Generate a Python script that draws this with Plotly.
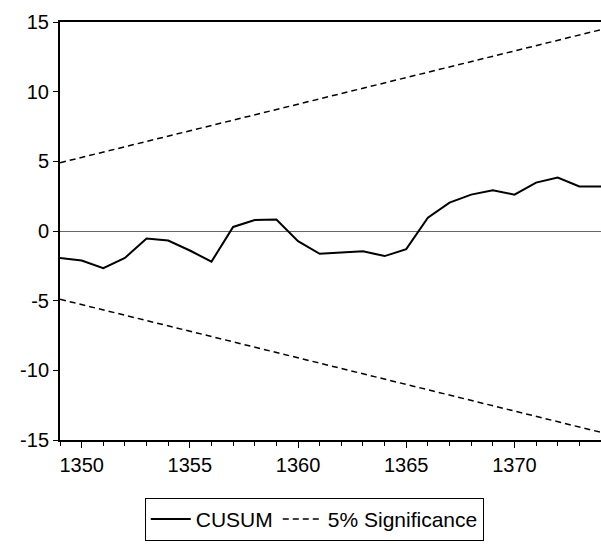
import plotly.graph_objects as go

years = list(range(1349, 1375))
cusum = [-1.93, -2.12, -2.67, -1.93, -0.54, -0.68, -1.4, -2.2, 0.29, 0.79,
         0.82, -0.73, -1.64, -1.56, -1.46, -1.8, -1.3, 0.96, 2.04, 2.61,
         2.92, 2.61, 3.47, 3.83, 3.2, 3.19]
bound_years = [1349, 1374]
upper_bound = [4.9, 14.45]
lower_bound = [-4.9, -14.45]

fig = go.Figure()
fig.add_trace(go.Scatter(x=years, y=cusum, mode="lines", name="CUSUM",
                         line=dict(color="black", width=2)))
fig.add_trace(go.Scatter(x=bound_years, y=upper_bound, mode="lines",
                         name="5% Significance",
                         line=dict(color="black", width=1.5, dash="6px,4px")))
fig.add_trace(go.Scatter(x=bound_years, y=lower_bound, mode="lines",
                         showlegend=False,
                         line=dict(color="black", width=1.5, dash="6px,4px")))

fig.update_layout(
    width=601, height=545,
    margin=dict(l=60, r=0, t=22, b=105),
    paper_bgcolor="white", plot_bgcolor="white",
    font=dict(family="Liberation Sans, Arial, sans-serif", size=20, color="black"),
    showlegend=True,
    legend=dict(orientation="h", x=0.47, xanchor="center", y=-0.19,
                yanchor="middle", bordercolor="black", borderwidth=1,
                bgcolor="white", font=dict(size=21), traceorder="normal",
                itemwidth=40),
)
fig.update_xaxes(range=[1349, 1374], tickvals=[1350, 1355, 1360, 1365, 1370],
                 ticks="outside", ticklen=6, tickwidth=1, tickcolor="black",
                 minor=dict(dtick=1, tick0=1349, ticks="outside", ticklen=4,
                            tickcolor="black", tickwidth=1),
                 showline=True, linecolor="black", linewidth=2, mirror=True,
                 showgrid=False, zeroline=False)
fig.update_yaxes(range=[-15, 15], tickvals=[-15, -10, -5, 0, 5, 10, 15],
                 ticktext=["-15", "-10", "-5", "0", "5", "10", "15"],
                 ticks="outside", ticklen=5, tickwidth=1, tickcolor="black",
                 showline=True, linecolor="black", linewidth=2,
                 showgrid=False, zeroline=True, zerolinecolor="#666666",
                 zerolinewidth=1)

fig.write_html(
    "out.html",
    config={"displayModeBar": False},
    post_script="document.body.style.margin='0';"
                "document.body.style.overflow='hidden';",
)
